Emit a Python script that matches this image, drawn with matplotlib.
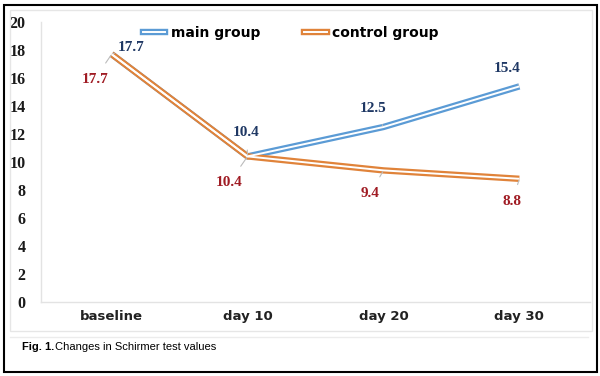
import matplotlib
matplotlib.use("Agg")
import matplotlib.pyplot as plt
from matplotlib.lines import Line2D
from matplotlib.patches import Rectangle

categories = ["baseline", "day 10", "day 20", "day 30"]
main_group = [17.7, 10.4, 12.5, 15.4]
control_group = [17.7, 10.4, 9.4, 8.8]
yticks = [0, 2, 4, 6, 8, 10, 12, 14, 16, 18, 20]

blue = "#5b9bd5"
orange = "#e0833a"
blue_txt = "#1f3864"
red_txt = "#a01c24"

fig = plt.figure(figsize=(6.0, 3.76), dpi=100)
W, H = 600, 376

# outer frame and inner panel
fig.patches.append(Rectangle((4 / W, 1 - 372 / H), 593 / W, 367 / H, transform=fig.transFigure,
                             fill=False, edgecolor="black", lw=1.5))
fig.patches.append(Rectangle((10 / W, 1 - 331 / H), 582 / W, 321 / H, transform=fig.transFigure,
                             fill=False, edgecolor="#e6e6e6", lw=1.0))
fig.add_artist(Line2D([10 / W, 588 / W], [1 - 337 / H, 1 - 337 / H], transform=fig.transFigure,
                      color="#ececec", lw=1.0))

ax = fig.add_axes([41 / W, 1 - 302 / H, 549 / W, 280 / H])
x = list(range(len(categories)))
ax.set_xlim(-0.52, 3.52)
ax.set_ylim(0, 20)

LW_OUT, LW_IN = 4.6, 1.4
for vals, col in [(main_group, blue), (control_group, orange)]:
    ax.plot(x, vals, color=col, lw=LW_OUT, solid_capstyle="butt", solid_joinstyle="round", zorder=3)
    ax.plot(x, vals, color="white", lw=LW_IN, solid_capstyle="butt", solid_joinstyle="round", zorder=4)

main_off = [(19, 7), (-1, 24), (-10, 19), (-12, 18)]
ctrl_off = [(-17, -25), (-18, -26), (-13, -23), (-7, -23)]
for i, (v, off) in enumerate(zip(main_group, main_off)):
    ax.annotate(f"{v}", (i, v), xytext=off, textcoords="offset pixels", ha="center", va="center",
                fontsize=11, fontweight="bold", family="Liberation Serif", color=blue_txt,
                arrowprops=dict(arrowstyle="-", color="#bbbbbb", lw=0.8, shrinkA=6, shrinkB=1), zorder=5)
for i, (v, off) in enumerate(zip(control_group, ctrl_off)):
    ax.annotate(f"{v}", (i, v), xytext=off, textcoords="offset pixels", ha="center", va="center",
                fontsize=11, fontweight="bold", family="Liberation Serif", color=red_txt,
                arrowprops=dict(arrowstyle="-", color="#bbbbbb", lw=0.8, shrinkA=6, shrinkB=1), zorder=5)

ax.set_xticks(x)
ax.set_xticklabels(categories, fontsize=9.5, fontweight="bold", family="DejaVu Sans", color="#222222")
ax.set_yticks(yticks)
ax.set_yticklabels([str(t) for t in yticks], fontsize=11.5, fontweight="bold",
                   family="Liberation Serif", color="#1a1a1a")
ax.tick_params(axis="both", length=0)
ax.tick_params(axis="y", pad=11)
ax.tick_params(axis="x", pad=6)
for s in ["top", "right"]:
    ax.spines[s].set_visible(False)
for s in ["left", "bottom"]:
    ax.spines[s].set_color("#e3e3e3")
    ax.spines[s].set_linewidth(1.0)
ax.patch.set_alpha(0)

h_main = (Line2D([], [], color=blue, lw=LW_OUT), Line2D([], [], color="white", lw=LW_IN))
h_ctrl = (Line2D([], [], color=orange, lw=LW_OUT), Line2D([], [], color="white", lw=LW_IN))
ax.legend([h_main, h_ctrl], ["main group", "control group"], ncol=2, frameon=False,
          loc="upper center", bbox_to_anchor=(0.455, 1.03), handlelength=1.6, handletextpad=0.4,
          columnspacing=3.2, prop=dict(family="DejaVu Sans", weight="bold", size=10))

fig.text(22 / W, 1 - 347 / H, "Fig. 1.", fontsize=8, fontweight="bold", family="Liberation Sans",
         va="center", ha="left")
fig.text(55 / W, 1 - 347 / H, "Changes in Schirmer test values", fontsize=8, family="Liberation Sans",
         va="center", ha="left")

fig.savefig("out.png", dpi=100)
